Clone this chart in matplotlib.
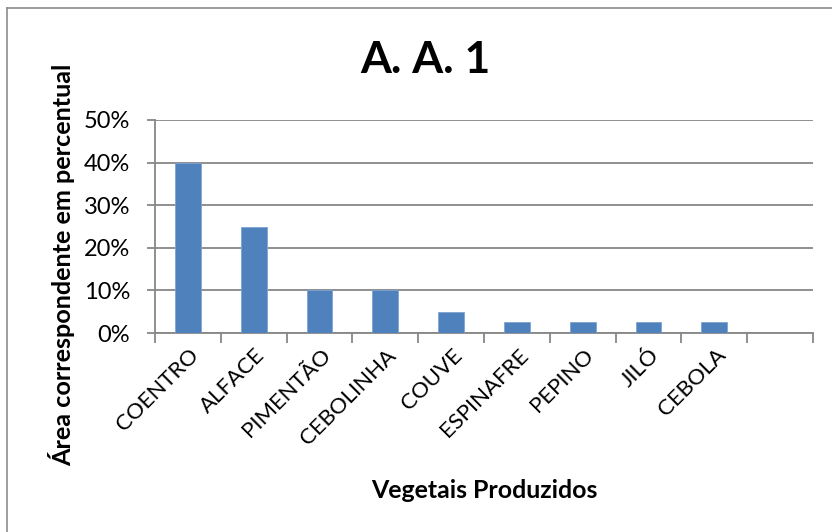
import matplotlib
matplotlib.use("Agg")
import matplotlib.pyplot as plt
from matplotlib.lines import Line2D
from matplotlib.ticker import PercentFormatter, FixedLocator
from matplotlib.transforms import ScaledTranslation

plt.rcParams['font.family'] = ['Lato', 'DejaVu Sans']

# Data
categories = ["COENTRO", "ALFACE", "PIMENTÃO", "CEBOLINHA", "COUVE",
              "ESPINAFRE", "PEPINO", "JILÓ", "CEBOLA"]
area_pct = [40, 25, 10, 10, 5, 2.5, 2.5, 2.5, 2.5]
n_slots = 10  # the category axis keeps one empty slot at the end
y_ticks = [0, 10, 20, 30, 40, 50]

title = "A. A. 1"
x_label = "Vegetais Produzidos"
y_label = "Área correspondente em percentual"

BAR = "#4F81BD"
GRID = "#878787"

fig = plt.figure(figsize=(8.32, 5.32), dpi=100)
ax = fig.add_axes([155 / 832, 1 - 333 / 532, (813 - 155) / 832, (333 - 120) / 532])

xs = list(range(len(categories)))
ax.bar(xs, area_pct, width=0.39, color=BAR, edgecolor="#7FA3D3", linewidth=0.6, zorder=3)

ax.set_xlim(-0.5, n_slots - 0.5)
ax.set_ylim(0, 50)

# y axis
ax.set_yticks(y_ticks)
ax.yaxis.set_major_formatter(PercentFormatter(decimals=0))
ax.yaxis.grid(True, color=GRID, linewidth=1.3, zorder=0)
ax.tick_params(axis="y", direction="out", length=6, width=1.3, color=GRID,
               labelsize=17, pad=12)

# x axis: labels at category centres, ticks between categories
ax.set_xticks(xs)
ax.set_xticklabels(categories, rotation=45, ha="right", va="center",
                   rotation_mode="anchor")
ax.tick_params(axis="x", which="major", length=0, labelsize=16, pad=16)
ax.xaxis.set_minor_locator(FixedLocator([i - 0.5 for i in range(n_slots + 1)]))
ax.tick_params(axis="x", which="minor", direction="out", length=7, width=1.3, color=GRID)
shift = ScaledTranslation(8 / 100, 3 / 100, fig.dpi_scale_trans)
for lbl in ax.get_xticklabels():
    lbl.set_transform(lbl.get_transform() + shift)

for side in ("top", "right"):
    ax.spines[side].set_visible(False)
for side in ("left", "bottom"):
    ax.spines[side].set_color(GRID)
    ax.spines[side].set_linewidth(1.3)

fig.text(425 / 832, 1 - 60 / 532, title, ha="center", va="center",
         fontsize=32, fontweight="bold")
fig.text(484 / 832, 1 - 490 / 532, x_label, ha="center", va="center",
         fontsize=17.9, fontweight="bold")
fig.text(62 / 832, 1 - 265 / 532, y_label, ha="center", va="center",
         rotation=90, fontsize=18.2, fontweight="bold")

# chart area frame (top and left edges)
fig.add_artist(Line2D([7 / 832, 7 / 832], [0, 1 - 8 / 532], transform=fig.transFigure,
                      color="#8C8C8C", linewidth=1.2))
fig.add_artist(Line2D([7 / 832, 1], [1 - 8 / 532, 1 - 8 / 532], transform=fig.transFigure,
                      color="#8C8C8C", linewidth=1.2))

fig.savefig("out.png", dpi=100)
